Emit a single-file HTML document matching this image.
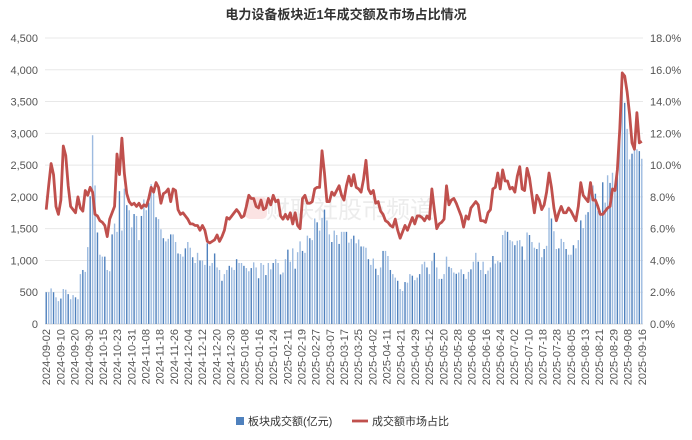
<!DOCTYPE html>
<html><head><meta charset="utf-8">
<style>
html,body{margin:0;padding:0;background:#fff;}
svg{display:block;font-family:"Liberation Sans","Noto Sans CJK SC",sans-serif;}
</style></head>
<body>
<svg id="chart" width="692" height="440" viewBox="0 0 692 440" xmlns="http://www.w3.org/2000/svg">
<text x="346" y="19" text-anchor="middle" font-size="13" font-weight="bold" fill="#333">电力设备板块近1年成交额及市场占比情况</text>
<g id="grid"></g>
<rect x="245" y="197" width="22" height="22" rx="5" fill="#fbe3e3"/>
<text x="350" y="218" text-anchor="middle" font-size="24" fill="#ececec">财联社股市频道</text>
<g id="bars"></g>
<path id="line" fill="none" stroke="#c0504d" stroke-width="2.8" stroke-linejoin="round"></path>
<g id="yl"></g>
<g id="yr"></g>
<g id="xl"></g>
<g>
<rect x="236" y="417" width="8" height="8" fill="#4f81bd"/>
<text x="248" y="425" font-size="11" fill="#333">板块成交额(亿元)</text>
<line x1="352" y1="421" x2="368" y2="421" stroke="#c0504d" stroke-width="2.8"/>
<text x="372" y="425" font-size="11" fill="#333">成交额市场占比</text>
</g>
</svg>
<script>
const turnover = [500,500,560,500,420,360,400,550,540,470,390,455,420,390,785,850,820,1210,2010,2970,2180,1440,1090,1060,1060,850,830,1410,1580,1450,2090,1470,2130,1870,1790,1520,1730,1700,1320,1700,1960,1790,1910,2200,2070,1680,1650,1490,1350,1300,1340,1410,1410,1290,1110,1100,1060,1190,1290,1200,1050,960,1120,1000,
1000,930,1270,915,960,1110,890,850,680,785,850,915,890,850,1020,960,960,915,880,830,880,970,890,720,960,930,770,960,860,960,1020,960,780,810,1020,1170,980,1190,870,1130,1300,1150,1120,1390,1350,1320,1660,1600,1470,1670,1800,1630,1410,1290,1470,1400,1260,1450,1450,1450,1280,
1340,1390,1270,1330,1220,1220,1200,1020,930,1030,870,770,890,1150,1150,1070,850,785,730,680,550,520,660,650,785,760,690,730,785,940,980,890,785,990,1120,890,710,710,785,1060,900,880,810,790,810,860,785,710,820,860,980,1120,980,850,980,785,840,890,1070,950,990,
970,1400,1470,1450,1320,1300,1240,1310,1320,1220,1010,1440,1400,1290,1200,1180,1280,1050,1180,1230,1830,1660,1460,1180,1190,1340,1290,1180,1090,1090,1240,1190,1320,1630,1510,1720,1760,2210,2180,2050,1780,1780,2230,1910,2340,2220,2380,2180,2510,3010,3660,3480,3070,2590,2680,2750,2750,2720,2600];
const sharePct = [7.2,8.7,10.1,9.4,7.4,6.9,7.8,11.2,10.6,8.7,7.4,7.2,7.0,8.0,7.3,7.1,8.4,8.1,8.6,8.3,6.9,6.8,6.5,6.4,6.2,5.5,6.6,7.0,7.4,10.7,9.4,11.7,9.5,8.2,7.7,7.5,7.6,7.4,7.6,7.3,7.5,7.4,7.9,8.6,8.3,8.9,8.6,7.6,8.2,8.3,8.5,7.7,8.5,8.4,7.2,6.9,7.0,6.8,6.6,6.3,6.3,6.2,6.2,5.9,
6.2,5.9,5.2,5.1,5.2,5.3,5.6,5.2,5.5,5.9,6.7,6.6,6.8,7.0,7.2,7.0,6.7,6.8,7.4,8.1,7.9,7.9,7.4,7.3,7.8,7.2,7.3,7.9,7.5,8.1,7.7,7.8,6.8,6.6,6.9,6.6,7.0,6.3,7.0,6.2,6.0,7.9,8.1,7.6,7.6,7.7,8.5,8.6,8.6,10.9,9.5,7.7,7.7,8.3,8.1,8.4,8.7,8.1,7.8,8.7,9.3,
8.7,9.4,8.6,8.5,8.3,9.1,10.3,8.5,8.2,8.4,7.6,7.7,7.1,6.9,6.5,6.4,6.2,6.1,6.6,5.9,5.4,5.8,6.2,5.9,6.3,6.7,6.3,6.8,6.8,6.7,6.5,6.8,6.6,8.5,7.2,6.0,6.3,6.4,6.6,8.7,7.5,7.8,7.9,7.6,7.2,6.8,6.1,6.8,6.6,7.3,7.5,7.7,7.5,6.5,6.5,6.4,7.0,7.2,8.5,8.6,9.5,
8.5,9.7,9.0,9.0,8.5,8.6,8.3,9.3,9.9,8.5,8.4,9.8,9.2,8.1,7.0,8.1,7.8,7.2,7.5,8.3,9.5,8.6,7.3,6.5,7.0,7.4,7.0,7.0,7.3,7.1,6.8,6.5,7.4,8.9,8.1,7.9,7.7,8.9,7.8,7.8,7.4,6.9,6.9,7.1,7.3,7.4,8.5,8.4,9.7,12.3,15.8,15.6,14.6,13.2,11.4,11.0,13.3,11.4,11.5];
const leftTicks = [0,500,1000,1500,2000,2500,3000,3500,4000,4500];
const rightTicks = [0,2,4,6,8,10,12,14,16,18];
const dateLabels = ["2024-09-02","2024-09-10","2024-09-20","2024-09-30","2024-10-15","2024-10-23","2024-10-31","2024-11-08","2024-11-18","2024-11-26","2024-12-04","2024-12-12","2024-12-20","2024-12-30","2025-01-08","2025-01-16","2025-01-24","2025-02-11","2025-02-19","2025-02-27","2025-03-07","2025-03-17","2025-03-25","2025-04-02","2025-04-11","2025-04-21","2025-04-29","2025-05-12","2025-05-20","2025-05-28","2025-06-06","2025-06-16","2025-06-24","2025-07-02","2025-07-10","2025-07-18","2025-07-28","2025-08-05","2025-08-13","2025-08-21","2025-08-29","2025-09-08","2025-09-16"];

const NS="http://www.w3.org/2000/svg";
const X0=45,X1=643,Y0=324,Y1=38;
const N=turnover.length;
const step=(X1-X0)/N;
function xPos(i){return X0+step*(i+0.5);}
function yLeft(v){return Y0-(v/4500)*(Y0-Y1);}
function yRight(p){return Y0-(p/18)*(Y0-Y1);}
function mk(tag,attrs,parent){const e=document.createElementNS(NS,tag);for(const k in attrs)e.setAttribute(k,attrs[k]);parent.appendChild(e);return e;}

const grid=document.getElementById('grid');
leftTicks.forEach(function(t){
  const y=yLeft(t);
  const g=mk('line',{x1:X0,x2:X1,y1:y,y2:y,stroke:t===0?'#d9d9d9':'#e8e8e8','stroke-width':1},grid);
  
  
  const tx=mk('text',{x:38,y:y+4,'text-anchor':'end','font-size':11,fill:'#555'},document.getElementById('yl'));
  tx.textContent=t.toLocaleString('en-US');
  
  
});
rightTicks.forEach(function(t){
  const tx=mk('text',{x:650,y:yRight(t)+4,'font-size':11,fill:'#555'},document.getElementById('yr'));
  tx.textContent=t.toFixed(1)+'%';
  
  
});
const bars=document.getElementById('bars');
turnover.forEach(function(v,i){
  const y=yLeft(v);
  const r=mk('rect',{x:xPos(i)-0.7,y:y,width:1.4,height:Y0-y,fill:(i%3===0)?'#4f81bd':'#9dbbe0'},bars);
  
  
});
let d='';
sharePct.forEach(function(p,i){d+=(i?'L':'M')+xPos(i).toFixed(2)+','+yRight(p).toFixed(2);});
document.getElementById('line').setAttribute('d',d);
const xl=document.getElementById('xl');
dateLabels.forEach(function(lbl,k){
  const idx=k*(N-1)/(dateLabels.length-1);
  const x=xPos(idx)+4;
  const t=mk('text',{x:x,y:329,'text-anchor':'end','font-size':11,fill:'#555',transform:'rotate(-90 '+x+' 329)'},xl);
  t.textContent=lbl;
  
  
});
</script>
</body></html>
